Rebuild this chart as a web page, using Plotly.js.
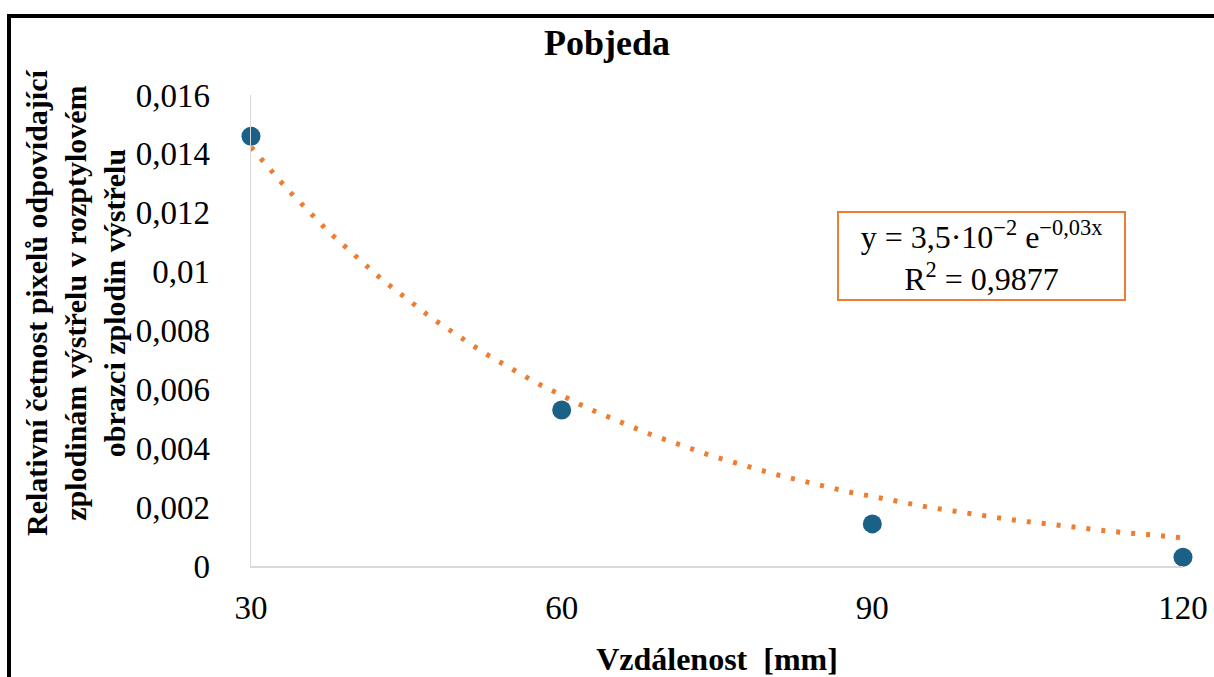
<!DOCTYPE html>
<html>
<head>
<meta charset="utf-8">
<script src="https://cdn.plot.ly/plotly-3.0.1.min.js"></script>
<style>
html,body{margin:0;padding:0;background:#fff;}
#chart{width:1214px;height:677px;}
</style>
</head>
<body>
<div id="chart"></div>
<script>
// Data
const distances = [30, 60, 90, 120];
const relFrequency = [0.0146, 0.0053, 0.00143, 0.0003];

// Trendline coefficients as shown in the chart's equation label
const trendA = 0.035;
const trendB = -0.03;

const yTickVals = [0, 0.002, 0.004, 0.006, 0.008, 0.01, 0.012, 0.014, 0.016];
const yTickText = ["0", "0,002", "0,004", "0,006", "0,008", "0,01", "0,012", "0,014", "0,016"];
const xTickVals = [30, 60, 90, 120];
const xTickText = ["30", "60", "90", "120"];

const titleText = "Pobjeda";
const xTitle = "Vzdálenost  [mm]";
const yTitle = "Relativní četnost pixelů odpovídající<br>zplodinám výstřelu v rozptylovém<br>obrazci zplodin výstřelu";
const eqText = "y = 3,5·10<sup>−2</sup> e<sup>−0,03x</sup><br>R<sup>2</sup> = 0,9877";

// Trendline evaluated from the displayed fit equation
const trendX = [];
const trendY = [];
for (let x = distances[0]; x <= distances[distances.length - 1]; x += 1) {
  trendX.push(x);
  trendY.push(trendA * Math.exp(trendB * x));
}

const serif = "Liberation Serif";

const W = 1214, H = 677;
const mL = 251, mR = 31, mT = 95, mB = 111;
const pw = W - mL - mR, ph = H - mT - mB;
const px2x = p => (p - mL) / pw;
const py2y = p => (H - mB - p) / ph;

const traces = [
  {
    x: distances, y: relFrequency, type: "scatter", mode: "markers",
    marker: {color: "#1B6086", size: 19},
    cliponaxis: false, showlegend: false, hoverinfo: "x+y"
  },
  {
    x: trendX, y: trendY, type: "scatter", mode: "lines",
    line: {color: "#ED7D31", width: 5, dash: "4px,11px"},
    cliponaxis: false, showlegend: false, hoverinfo: "skip"
  }
];

const layout = {
  width: W, height: H,
  margin: {l: mL, r: mR, t: mT, b: mB, pad: 0},
  paper_bgcolor: "#ffffff", plot_bgcolor: "#ffffff",
  showlegend: false,
  font: {family: serif, color: "#000000", size: 33},
  title: {
    text: "<b>" + titleText + "</b>",
    font: {family: serif, size: 36, color: "#000000"},
    x: 0.5, xref: "container", xanchor: "center",
    y: 1 - 42 / H, yref: "container", yanchor: "middle"
  },
  xaxis: {
    range: [30, 120], tickvals: xTickVals, ticktext: xTickText,
    showgrid: false, zeroline: false, showline: true,
    linecolor: "#D9D9D9", linewidth: 1.5, ticks: "",
    ticklabelstandoff: 12,
    tickfont: {family: serif, size: 33, color: "#000000"},
    title: {text: "<b>" + xTitle + "</b>", font: {family: serif, size: 32, color: "#000000"}, standoff: 30},
    fixedrange: true
  },
  yaxis: {
    range: [0, 0.016], tickvals: yTickVals, ticktext: yTickText,
    showgrid: false, zeroline: false, showline: true,
    linecolor: "#D9D9D9", linewidth: 1.5, ticks: "",
    ticklabelstandoff: 33,
    tickfont: {family: serif, size: 33, color: "#000000"},
    fixedrange: true
  },
  annotations: [
    {
      text: "<b>" + yTitle + "</b>", xref: "paper", yref: "paper",
      x: px2x(75), y: py2y(303), xanchor: "center", yanchor: "middle",
      textangle: -90, showarrow: false, align: "center",
      font: {family: serif, size: 30, color: "#000000"}
    },
    {
      text: eqText, xref: "paper", yref: "paper",
      x: px2x(981), y: py2y(256), xanchor: "center", yanchor: "middle",
      showarrow: false, align: "center",
      width: 281, height: 82,
      font: {family: serif, size: 32, color: "#000000"},
      bordercolor: "#ED7D31", borderwidth: 2, borderpad: 2, bgcolor: "#ffffff"
    }
  ],
  shapes: [
    {type: "line", xref: "paper", yref: "paper", x0: px2x(9), x1: px2x(9), y0: py2y(14), y1: py2y(700), line: {color: "#000000", width: 4}},
    {type: "line", xref: "paper", yref: "paper", x0: px2x(7), x1: px2x(1230), y0: py2y(16), y1: py2y(16), line: {color: "#000000", width: 4}}
  ]
};

function draw() {
  Plotly.newPlot("chart", traces, layout, {displayModeBar: false, staticPlot: true});
}
if (document.fonts && document.fonts.load) {
  Promise.all([
    document.fonts.load('33px "Liberation Serif"'),
    document.fonts.load('bold 33px "Liberation Serif"')
  ]).then(draw, draw);
} else {
  draw();
}
</script>
</body>
</html>
